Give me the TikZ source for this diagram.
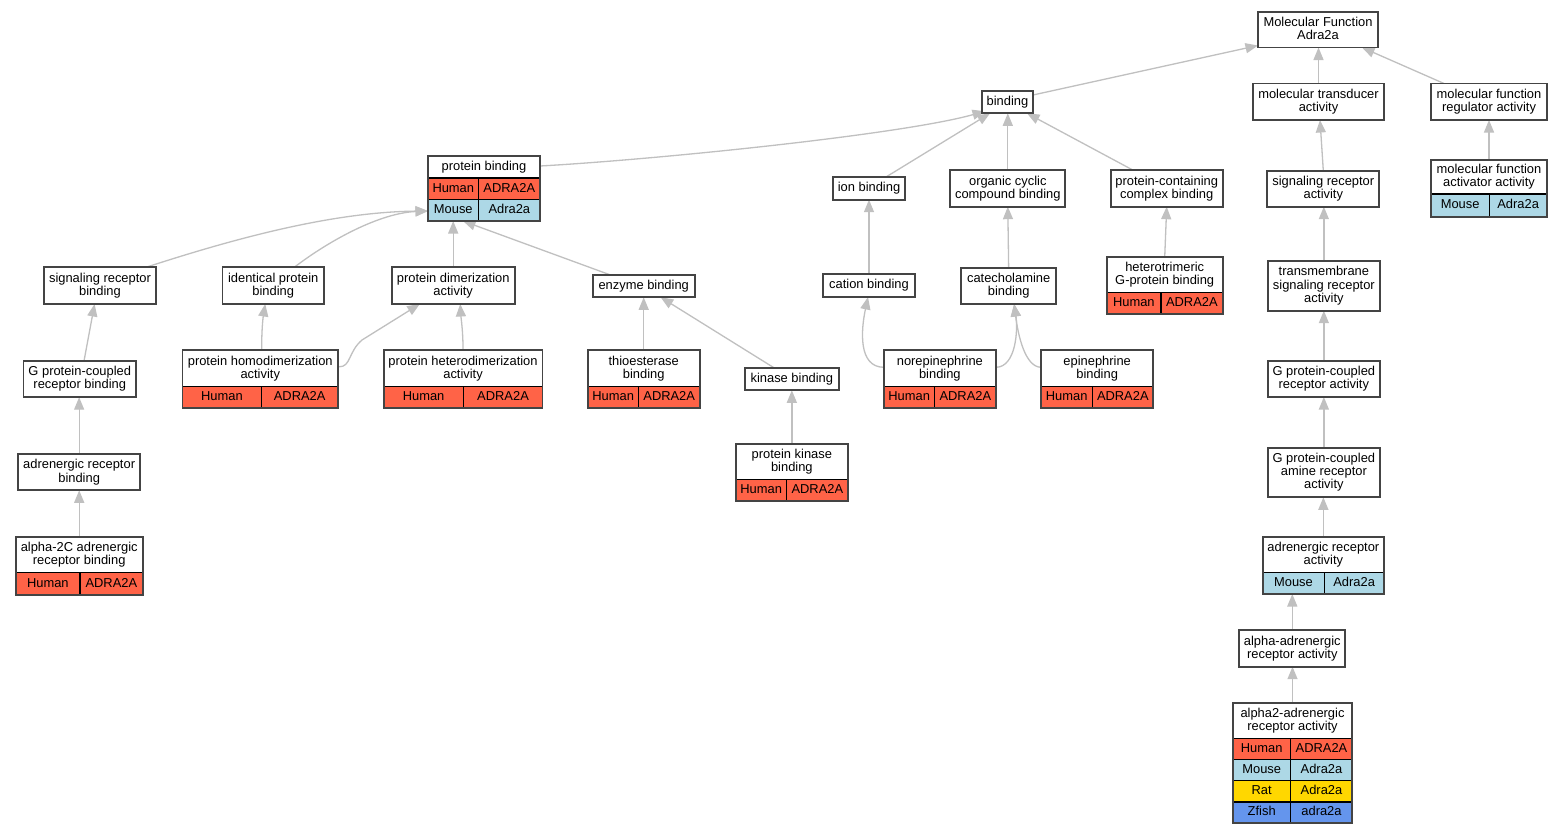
\documentclass[tikz,border=0pt]{standalone}
\usepackage{fontspec}
\setmainfont{Liberation Sans}
\usetikzlibrary{arrows.meta,fit,calc}
\definecolor{Human}{HTML}{FF6347}
\definecolor{Mouse}{HTML}{ADD8E6}
\definecolor{Rat}{HTML}{FFD700}
\definecolor{Zfish}{HTML}{6495ED}
\definecolor{edgegray}{HTML}{C0C0C0}
\definecolor{boxline}{HTML}{444444}
\pgfdeclarelayer{background}
\pgfsetlayers{background,main}
\newcommand\gostrut{\rule[-2.8pt]{0pt}{12.1pt}}
\tikzset{
 gobox/.style={draw=boxline, line width=1.8pt, fill=white, inner sep=0pt, outer sep=0pt},
 gotext/.style={align=center, font=\fontsize{12.9}{13.2}\selectfont, inner sep=0pt},
 celltext/.style={font=\fontsize{12.9}{13.2}\selectfont, inner sep=0pt, text height=9.3pt, text depth=2.8pt},
 cellline/.style={draw=black, line width=1.1pt},
 outline/.style={draw=boxline, line width=1.8pt},
 edge/.style={draw=edgegray, line width=1.3pt, -{Triangle[length=12.5pt,width=10pt]}},
}
\newcommand\goterm[7]{%
  \node[gobox, fit={(#2,#3) (#4,#6)}] (#1) {};
  \node[gotext] (#1-t) at ({(#2+#4)/2},{(#3+#5)/2}) {\gostrut#7\gostrut};
}
\newcommand\gorow[8]{%
  \fill[#7] (#2,#5) rectangle (#4,#6);
  \draw[cellline] (#2,#5) -- (#4,#5) (#3,#5) -- (#3,#6);
  \node[celltext] (#1-#7) at ({(#2+#3)/2},{(#5+#6)/2}) {#7};
  \node[celltext] (#1-#7-gene) at ({(#3+#4)/2},{(#5+#6)/2}) {#8};
}
\newcommand\gooutline[1]{\draw[outline] (#1.north west) rectangle (#1.south east);}
\begin{document}
\begin{tikzpicture}[x=1pt,y=-1pt]
\useasboundingbox (0,0) rectangle (1563,835);
\begin{pgfonlayer}{background}
\fill[white] (0,0) rectangle (1563,835);
\end{pgfonlayer}

\goterm{mf}{1258}{12}{1378}{47.5}{47.5}{Molecular Function\\Adra2a}
\goterm{mta}{1253}{83.5}{1384}{120}{120}{molecular transducer\\activity}
\goterm{mfr}{1431}{83.5}{1547}{120}{120}{molecular function\\regulator activity}
\goterm{bind}{982}{91}{1033}{113.3}{113.3}{binding}
\goterm{pb}{428}{156}{540}{178}{221}{protein binding}
\gorow{pb}{428}{478.6}{540}{178}{199.5}{Human}{ADRA2A}
\gorow{pb}{428}{478.6}{540}{199.5}{221}{Mouse}{Adra2a}
\gooutline{pb}
\goterm{ion}{833}{177}{905}{199.7}{199.7}{ion binding}
\goterm{occ}{950.3}{170}{1065.3}{206.7}{206.7}{organic cyclic\\compound binding}
\goterm{pcc}{1110.7}{170}{1222.7}{206.7}{206.7}{protein-containing\\complex binding}
\goterm{sra}{1267.3}{170.7}{1379.3}{206.7}{206.7}{signaling receptor\\activity}
\goterm{mfa}{1431}{160}{1547}{194}{217}{molecular function\\activator activity}
\gorow{mfa}{1431}{1489.3}{1547}{194}{217}{Mouse}{Adra2a}
\gooutline{mfa}
\goterm{srb}{44}{267.3}{156}{304}{304}{signaling receptor\\binding}
\goterm{ipb}{222.5}{267.3}{324}{304}{304}{identical protein\\binding}
\goterm{pda}{391.8}{267.3}{514.6}{304}{304}{protein dimerization\\activity}
\goterm{enz}{592.7}{274.7}{694.7}{297.3}{297.3}{enzyme binding}
\goterm{cat}{823.3}{274.3}{914.7}{297}{297}{cation binding}
\goterm{catb}{961.3}{267.7}{1056}{304}{304}{catecholamine\\binding}
\goterm{htg}{1106.7}{257.3}{1222.7}{292.7}{314.3}{heterotrimeric\\G-protein binding}
\gorow{htg}{1106.7}{1161}{1222.7}{292.7}{314.3}{Human}{ADRA2A}
\gooutline{htg}
\goterm{tsra}{1267.7}{261}{1380}{310.7}{310.7}{transmembrane\\signaling receptor\\activity}
\goterm{gcrb}{23.5}{361}{136}{397.2}{397.2}{G protein-coupled\\receptor binding}
\goterm{phom}{182.5}{350.3}{338}{386.5}{407.7}{protein homodimerization\\activity}
\gorow{phom}{182.5}{261.4}{338}{386.5}{407.7}{Human}{ADRA2A}
\gooutline{phom}
\goterm{phet}{383.6}{350.3}{542.5}{386.5}{407.7}{protein heterodimerization\\activity}
\gorow{phet}{383.6}{463.6}{542.5}{386.5}{407.7}{Human}{ADRA2A}
\gooutline{phet}
\goterm{thio}{587.7}{350.3}{699.7}{386.5}{407.7}{thioesterase\\binding}
\gorow{thio}{587.7}{638.7}{699.7}{386.5}{407.7}{Human}{ADRA2A}
\gooutline{thio}
\goterm{kin}{745}{367.7}{838.7}{390.3}{390.3}{kinase binding}
\goterm{nor}{883.7}{350.3}{996}{386.5}{407.7}{norepinephrine\\binding}
\gorow{nor}{883.7}{934.7}{996}{386.5}{407.7}{Human}{ADRA2A}
\gooutline{nor}
\goterm{epi}{1041}{350.3}{1153.3}{386.5}{407.7}{epinephrine\\binding}
\gorow{epi}{1041}{1092.3}{1153.3}{386.5}{407.7}{Human}{ADRA2A}
\gooutline{epi}
\goterm{gcra}{1267.7}{361}{1380}{397}{397}{G protein-coupled\\receptor activity}
\goterm{pkb}{735.7}{443.7}{848}{479.3}{501}{protein kinase\\binding}
\gorow{pkb}{735.7}{786.7}{848}{479.3}{501}{Human}{ADRA2A}
\gooutline{pkb}
\goterm{gcam}{1267.7}{447.7}{1380}{497.3}{497.3}{G protein-coupled\\amine receptor\\activity}
\goterm{arb}{18.3}{454.3}{140}{490.3}{490.3}{adrenergic receptor\\binding}
\goterm{ara}{1262.7}{537}{1384}{572.7}{594}{adrenergic receptor\\activity}
\gorow{ara}{1262.7}{1324.3}{1384}{572.7}{594}{Mouse}{Adra2a}
\gooutline{ara}
\goterm{a2c}{15.7}{537}{142.7}{572.7}{595}{alpha-2C adrenergic\\receptor binding}
\gorow{a2c}{15.7}{80}{142.7}{572.7}{595}{Human}{ADRA2A}
\gooutline{a2c}
\goterm{aar}{1239.3}{630.3}{1345.3}{666.7}{666.7}{alpha-adrenergic\\receptor activity}
\goterm{a2a}{1232.7}{702.7}{1352.3}{738.3}{823.3}{alpha2-adrenergic\\receptor activity}
\gorow{a2a}{1232.7}{1290.7}{1352.3}{738.3}{759.3}{Human}{ADRA2A}
\gorow{a2a}{1232.7}{1290.7}{1352.3}{759.3}{780.7}{Mouse}{Adra2a}
\gorow{a2a}{1232.7}{1290.7}{1352.3}{780.7}{802}{Rat}{Adra2a}
\gorow{a2a}{1232.7}{1290.7}{1352.3}{802}{823.3}{Zfish}{adra2a}
\gooutline{a2a}

\begin{pgfonlayer}{background}
\draw[edge] ($(bind.north east)+(0,4)$) -- ($(mf.south west)+(0,-2)$);
\draw[edge] (mta.north) -- (mta.north |- mf.south);
\draw[edge] ($(mfr.north west)+(13,0)$) -- ($(mf.south east)+(-16,0)$);
\draw[edge] ($(pb.north east)+(0,10)$) .. controls (650,160) and (900,135) .. ($(bind.south west)+(3,-2)$);
\draw[edge] ($(ion.north)+(17,0)$) -- ($(bind.south west)+(8,0)$);
\draw[edge] (occ.north) -- (occ.north |- bind.south);
\draw[edge] ($(pcc.north west)+(22,0)$) -- ($(bind.south east)+(-6,0)$);
\draw[edge] (sra.north) -- ($(mta.south)+(1.5,0)$);
\draw[edge] (mfa.north) -- (mfa.north |- mfr.south);
\draw[edge] (cat.north) -- (cat.north |- ion.south);
\draw[edge] (catb.north) -- (occ.south);
\draw[edge] (htg.north) -- (pcc.south);
\draw[edge] (tsra.north) -- (tsra.north |- sra.south);
\draw[edge] (gcra.north) -- (gcra.north |- tsra.south);
\draw[edge] (gcam.north) -- (gcam.north |- gcra.south);
\draw[edge] (ara.north) -- (ara.north |- gcam.south);
\draw[edge] (aar.north) -- (aar.north |- ara.south);
\draw[edge] (a2a.north) -- (a2a.north |- aar.south);
\draw[edge] ($(srb.north east)+(-10,0)$) .. controls (230,240) and (330,212) .. ($(pb.south west)+(0,-10)$);
\draw[edge] ($(ipb.north)+(21,0)$) .. controls (330,240) and (380,213) .. ($(pb.south west)+(0,-10)$);
\draw[edge] (pda.north) -- (pda.north |- pb.south);
\draw[edge] ($(enz.north west)+(17,0)$) -- ($(pb.south)+(-21,0)$);
\draw[edge] ($(phom.north)+(1.5,0)$) .. controls (261.5,330) and (263,318) .. ($(ipb.south)+(-8,0)$);
\draw[edge] ($(phom.north east)+(1,16.5)$) .. controls (351,367) and (348,352) .. (362,340) -- ($(pda.south west)+(28,0)$);
\draw[edge] (phet.north) .. controls (463,330) and (461,318) .. ($(pda.south)+(7,0)$);
\draw[edge] (thio.north) -- (thio.north |- enz.south);
\draw[edge] ($(kin.north)+(-18,0)$) -- ($(enz.south)+(17,0)$);
\draw[edge] (pkb.north) -- (pkb.north |- kin.south);
\draw[edge] ($(nor.north west)+(0,17)$) .. controls (858,367) and (861,330) .. ($(cat.south)+(-1,0)$);
\draw[edge] ($(nor.north east)+(0,17)$) .. controls (1016,367) and (1018,330) .. ($(catb.south)+(5.5,0)$);
\draw[edge] ($(epi.north west)+(0,17)$) .. controls (1025,367) and (1018,335) .. ($(catb.south)+(5.5,0)$);
\draw[edge] ($(gcrb.north)+(4.25,0)$) -- ($(srb.south)+(-5.4,0)$);
\draw[edge] (arb.north) -- (arb.north |- gcrb.south);
\draw[edge] (a2c.north) -- (a2c.north |- arb.south);
\end{pgfonlayer}
\end{tikzpicture}
\end{document}
